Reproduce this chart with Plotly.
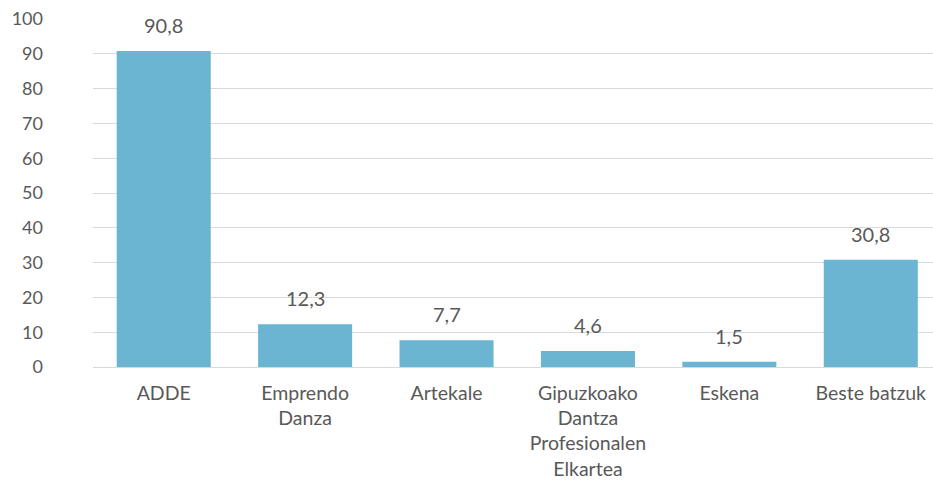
import plotly.graph_objects as go

categories = ["ADDE", "Emprendo<br>Danza", "Artekale", "Gipuzkoako<br>Dantza<br>Profesionalen<br>Elkartea", "Eskena", "Beste batzuk"]
values = [90.8, 12.3, 7.7, 4.6, 1.5, 30.8]
y_ticks = [0, 10, 20, 30, 40, 50, 60, 70, 80, 90, 100]

FONT = "Lato"
GREY = "#595959"

fig = go.Figure()
fig.add_trace(go.Bar(
    x=categories, y=values,
    marker=dict(color="#6BB5D2", line=dict(width=0)),
    hoverinfo="skip",
))

for c, v in zip(categories, values):
    fig.add_annotation(
        x=c, y=v, text=f"{v:.1f}".replace(".", ","),
        showarrow=False, yanchor="bottom", yshift=12,
        font=dict(family=FONT, size=20, color=GREY),
    )

fig.update_layout(
    width=933, height=482,
    margin=dict(l=93, r=0, t=19, b=115),
    paper_bgcolor="white", plot_bgcolor="white",
    bargap=0.335,
    showlegend=False,
    font=dict(family=FONT, size=18, color=GREY),
)
fig.update_xaxes(
    range=[-0.5, 5.44], showline=False, ticks="", showgrid=False,
    tickfont=dict(family=FONT, size=19.5, color=GREY),
    automargin=False, ticklabelstandoff=12,
)
fig.update_yaxes(
    range=[0, 100], tickvals=y_ticks, showline=False, ticks="",
    gridcolor="#D9D9D9", gridwidth=1, zeroline=True, zerolinecolor="#D9D9D9", zerolinewidth=1,
    tickfont=dict(family=FONT, size=18, color=GREY), ticklabelstandoff=49,
    automargin=False,
)

fig.write_html("out.html", config={"displayModeBar": False},
               post_script="document.body.style.margin='0px';document.body.style.overflow='hidden';")
